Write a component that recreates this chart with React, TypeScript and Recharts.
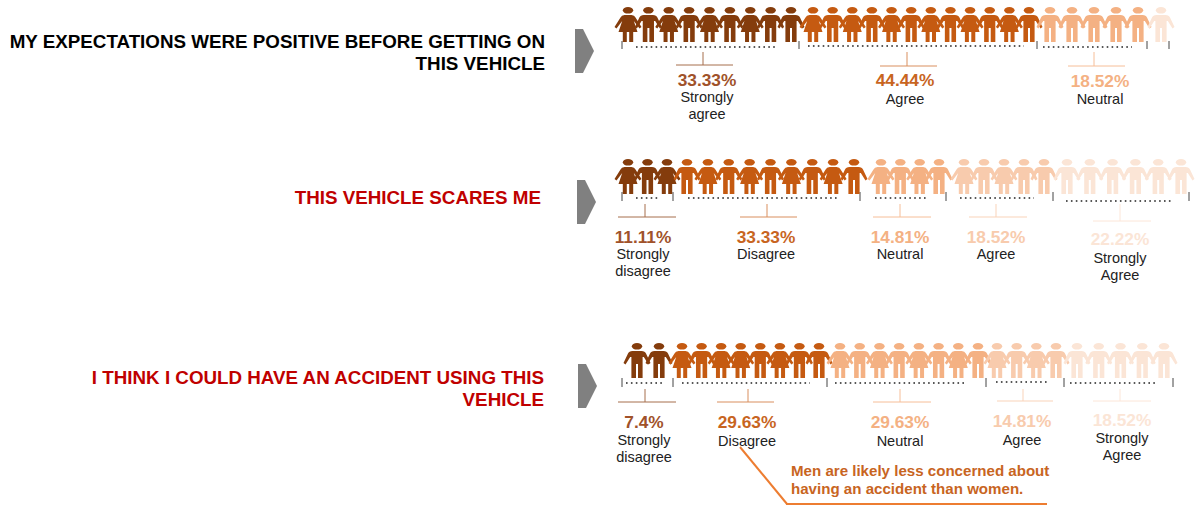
import { ScatterChart, Scatter, XAxis, YAxis, ReferenceLine } from "recharts";

const WIDTH = 1196;
const HEIGHT = 511;
const FONT = '"Liberation Sans", Arial, sans-serif';

// Survey values, one list per question
const titles = [
  "MY EXPECTATIONS WERE POSITIVE BEFORE GETTING ON\nTHIS VEHICLE",
  "THIS VEHICLE SCARES ME",
  "I THINK I COULD HAVE AN ACCIDENT USING THIS\nVEHICLE",
];
const q1Labels = ["Strongly\nagree", "Agree", "Neutral"];
const q1Percents = ["33.33%", "44.44%", "18.52%"];
const q1Counts = [9, 12, 5, 1];
const q1Genders = "FMFMFMFMM" + "FMFMFMFMFMFM" + "MMMMM" + "M";
const q1Tones = [0, 1, 2, 4];

const q2Labels = ["Strongly\ndisagree", "Disagree", "Neutral", "Agree", "Strongly\nAgree"];
const q2Percents = ["11.11%", "33.33%", "14.81%", "18.52%", "22.22%"];
const q2Counts = [3, 9, 4, 5, 6];
const q2Genders = "FMF" + "MFMFMFMFM" + "FMFM" + "FMFMM" + "MMMMMM";
const q2Tones = [0, 1, 2, 3, 4];

const q3Labels = ["Strongly\ndisagree", "Disagree", "Neutral", "Agree", "Strongly\nAgree"];
const q3Percents = ["7.4%", "29.63%", "29.63%", "14.81%", "18.52%"];
const q3Counts = [2, 8, 8, 4, 5];
const q3Genders = "MM" + "FMFFMFMM" + "FMFMFMFM" + "FMFM" + "MMMMM";
const q3Tones = [0, 1, 2, 3, 4];

const callout = "Men are likely less concerned about\nhaving an accident than women.";

const TONES = ["#843C0C", "#C55A11", "#F4B183", "#F8CBAD", "#FBE5D6"];
const PERCENT_TONES = ["#A0522A", "#C8651F", "#F4B183", "#F8CBAD", "#FBE5D6"];
const RULE_TONES = ["#A66E4C", "#D98F5F", "#F6BE98", "#F9D3B9", "#FCE6D8"];

// Where things sit on the slide, kept apart from the values above
const questions = [
  {
    title: titles[0], titleRight: 545, titleY: [41, 63], titleColor: "#000000", arrow: [575, 51],
    labels: q1Labels, percents: q1Percents, counts: q1Counts, genders: q1Genders, tones: q1Tones,
    peopleTop: 7, peopleSpans: [[628, 791], [813, 1029], [1050, 1138], [1161, 1161]],
    ticks: [622, 799, 1037, 1147, 1169], tickY: [41, 49],
    dots: [[636, 775], [808, 1024], [1043, 1132]], dotY: [47, 46, 47],
    rules: [[676, 733], [880, 937], [1068, 1125]], stems: [703, 907, 1094], ruleY: [65, 66, 66], stemTop: 52,
    textX: [707, 905, 1100], percentY: [80, 80, 81], labelY: [97, 99, 99],
  },
  {
    title: titles[1], titleRight: 541, titleY: [197], titleColor: "#C00000", arrow: [577, 202],
    labels: q2Labels, percents: q2Percents, counts: q2Counts, genders: q2Genders, tones: q2Tones,
    peopleTop: 159, peopleSpans: [[628, 667], [687, 854], [881, 939], [964, 1044], [1067, 1181]],
    ticks: [622, 673, 860, 946, 1053, 1189], tickY: [192, 201],
    dots: [[636, 660], [688, 838], [875, 928], [960, 1034], [1066, 1173]], dotY: [198, 198, 198, 198, 201],
    rules: [[618, 676], [740, 797], [873, 931], [969, 1027], [1093, 1151]], stems: [645, 767, 900, 996, 1120],
    ruleY: [217, 217, 217, 217, 221], stemTop: 204,
    textX: [643, 766, 900, 996, 1120], percentY: [237, 237, 237, 237, 239], labelY: [254, 254, 254, 254, 258],
  },
  {
    title: titles[2], titleRight: 544, titleY: [377, 399], titleColor: "#C00000", arrow: [578, 386],
    labels: q3Labels, percents: q3Percents, counts: q3Counts, genders: q3Genders, tones: q3Tones,
    peopleTop: 343, peopleSpans: [[637, 659], [682, 819], [840, 978], [997, 1056], [1077, 1164]],
    ticks: [622, 673, 827, 986, 1064, 1173], tickY: [378, 387],
    dots: [[626, 663], [682, 810], [835, 965], [996, 1048], [1070, 1156]], dotY: [383, 383, 383, 382, 383],
    rules: [[618, 676], [717, 774], [873, 931], [997, 1053], [1093, 1151]], stems: [645, 748, 900, 1023, 1120],
    ruleY: [402, 402, 402, 401, 401], stemTop: 389,
    textX: [644, 747, 900, 1022, 1122], percentY: [422, 422, 422, 421, 420], labelY: [440, 441, 441, 440, 438],
  },
];

const MALE =
  "M-4.5,8 L4.5,8 Q8,8 9,10.5 L13.5,20 L11.5,21.5 L6.8,14 L5.6,14 L5.6,35 L1,35 L1,21 L-1,21 L-1,35 L-5.6,35 L-5.6,14 L-6.8,14 L-11.5,21.5 L-13.5,20 L-9,10.5 Q-8,8 -4.5,8 Z";
const FEMALE =
  "M-3.5,8 L3.5,8 Q6.5,8 7.5,10.5 L13.5,20 L11.5,21.5 L5.8,14 L9.5,25 L5.2,25 L5.2,35 L1.2,35 L1.2,25 L-1.2,25 L-1.2,35 L-5.2,35 L-5.2,25 L-9.5,25 L-5.8,14 L-11.5,21.5 L-13.5,20 L-7.5,10.5 Q-6.5,8 -3.5,8 Z";

function Person({ cx, cy, payload }: any) {
  return (
    <g transform={`translate(${cx},${cy})`} fill={payload.color}>
      <ellipse cx={0} cy={3.3} rx={5.2} ry={3.3} />
      <path d={payload.gender === "F" ? FEMALE : MALE} />
    </g>
  );
}

function Arrow({ cx, cy }: any) {
  return (
    <path
      transform={`translate(${cx},${cy})`}
      d="M0,-22 L8,-22 L19,0 L8,22 L0,22 Z"
      fill="#808080"
    />
  );
}

function Words({ cx, cy, payload }: any) {
  return (
    <text
      x={cx}
      y={cy}
      textAnchor={payload.anchor}
      dominantBaseline="central"
      fontFamily={FONT}
      fontSize={payload.size}
      fontWeight={payload.bold ? 700 : 400}
      fill={payload.color}
    >
      {payload.text}
    </text>
  );
}

const people: any[] = [];
const arrows: any[] = [];
const words: any[] = [];
const segments: any[] = [];

questions.forEach((q) => {
  let n = 0;
  q.counts.forEach((count, s) => {
    const [from, to] = q.peopleSpans[s];
    for (let i = 0; i < count; i++) {
      people.push({
        x: count > 1 ? from + ((to - from) * i) / (count - 1) : from,
        y: q.peopleTop,
        gender: q.genders[n++],
        color: TONES[q.tones[s]],
      });
    }
  });

  arrows.push({ x: q.arrow[0], y: q.arrow[1] });

  q.title.split("\n").forEach((line, i) => {
    words.push({
      x: q.titleRight, y: q.titleY[i], text: line, anchor: "end", size: 18.8, bold: true, color: q.titleColor,
    });
  });

  q.ticks.forEach((x) => {
    segments.push({ from: [x, q.tickY[0]], to: [x, q.tickY[1]], stroke: "#444444", width: 1 });
  });

  q.percents.forEach((pct, s) => {
    const tone = q.tones[s];
    segments.push({
      from: [q.dots[s][0], q.dotY[s]], to: [q.dots[s][1], q.dotY[s]],
      stroke: "#222222", width: 1.6, dash: "1.6 3.3",
    });
    segments.push({ from: [q.rules[s][0], q.ruleY[s]], to: [q.rules[s][1], q.ruleY[s]], stroke: RULE_TONES[tone], width: 1 });
    segments.push({ from: [q.stems[s], q.stemTop], to: [q.stems[s], q.ruleY[s]], stroke: RULE_TONES[tone], width: 1 });
    words.push({
      x: q.textX[s], y: q.percentY[s], text: pct, anchor: "middle", size: 17.3, bold: true, color: PERCENT_TONES[tone],
    });
    q.labels[s].split("\n").forEach((line, i) => {
      words.push({
        x: q.textX[s], y: q.labelY[s] + i * 16.5, text: line, anchor: "middle", size: 14.5, bold: false, color: "#222222",
      });
    });
  });
});

callout.split("\n").forEach((line, i) => {
  words.push({ x: 791, y: 470 + i * 18, text: line, anchor: "start", size: 15.1, bold: true, color: "#C8651F" });
});
segments.push({ from: [740, 447], to: [787, 504], stroke: "#ED7D31", width: 2 });
segments.push({ from: [786, 504], to: [1047, 504], stroke: "#ED7D31", width: 2 });

export default function App() {
  return (
    <div style={{ position: "absolute", left: 0, top: 0, background: "#ffffff" }}>
      <ScatterChart width={WIDTH} height={HEIGHT} margin={{ top: 0, right: 0, bottom: 0, left: 0 }}>
        <XAxis type="number" dataKey="x" domain={[0, WIDTH]} hide />
        <YAxis type="number" dataKey="y" domain={[0, HEIGHT]} reversed hide />
        {segments.map((seg, i) => (
          <ReferenceLine
            key={i}
            segment={[
              { x: seg.from[0], y: seg.from[1] },
              { x: seg.to[0], y: seg.to[1] },
            ]}
            stroke={seg.stroke}
            strokeWidth={seg.width}
            strokeDasharray={seg.dash}
          />
        ))}
        <Scatter data={people} shape={<Person />} isAnimationActive={false} />
        <Scatter data={arrows} shape={<Arrow />} isAnimationActive={false} />
        <Scatter data={words} shape={<Words />} isAnimationActive={false} />
      </ScatterChart>
    </div>
  );
}
